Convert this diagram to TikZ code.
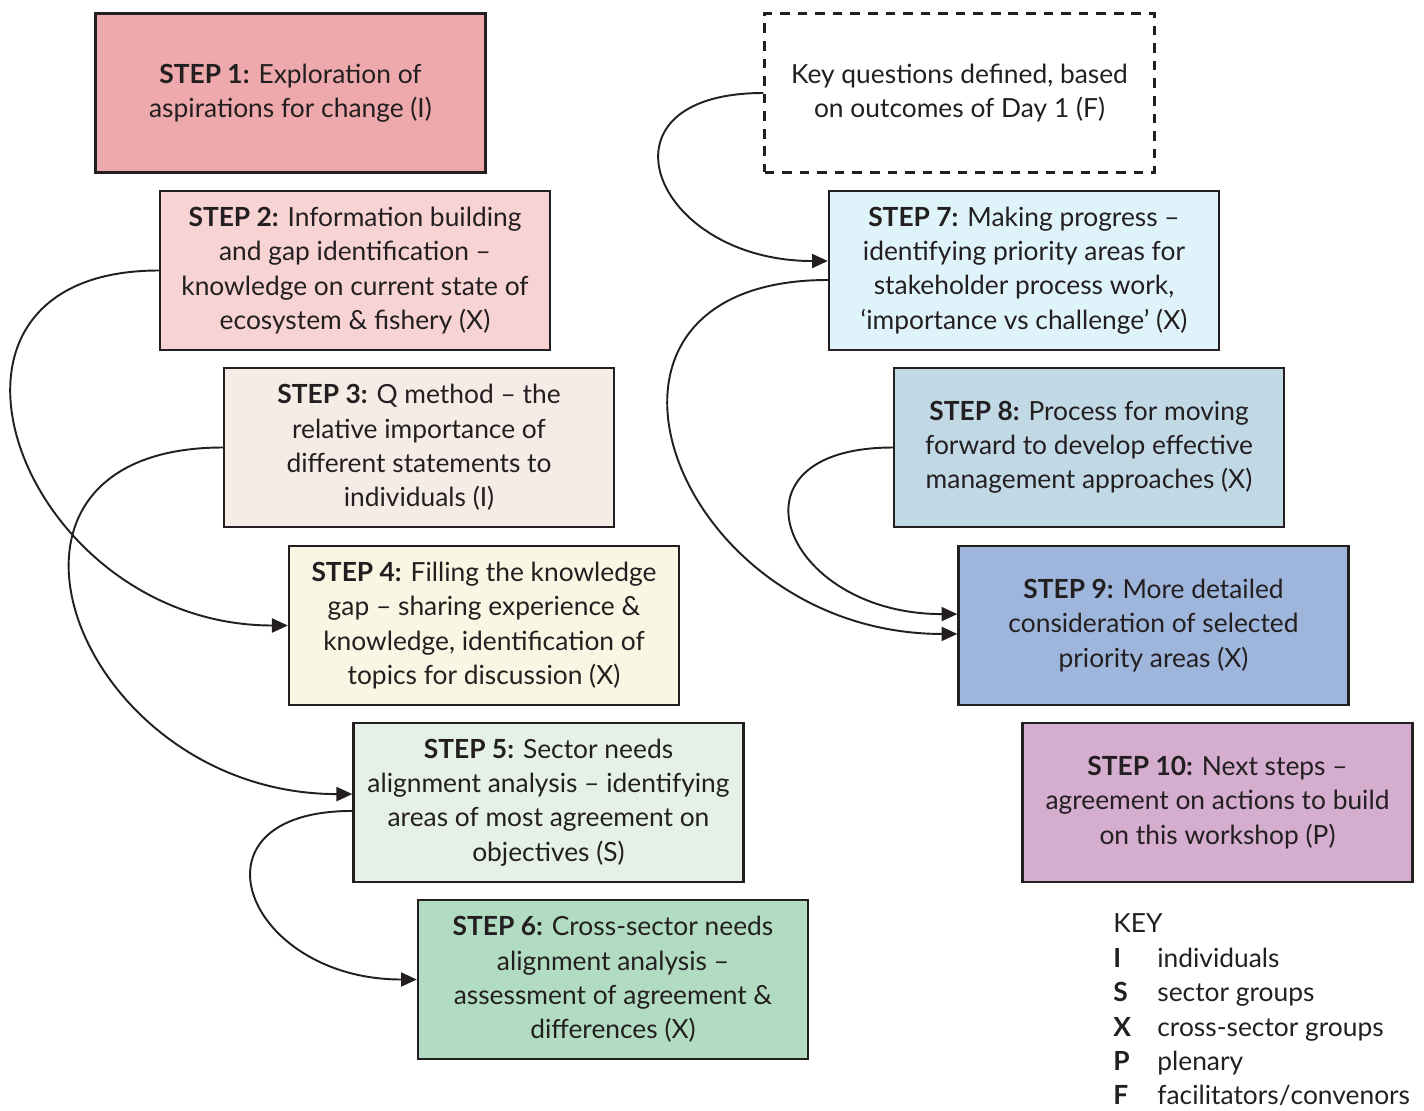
\documentclass[tikz,border=0pt]{standalone}
\usepackage{fontspec}
\setmainfont{Lato}
\usetikzlibrary{arrows.meta}
\definecolor{linec}{HTML}{231F20}
\definecolor{fillA}{HTML}{EDA9AC}
\definecolor{fillB}{HTML}{F7D3D4}
\definecolor{fillC}{HTML}{F6ECE6}
\definecolor{fillD}{HTML}{F8F7E3}
\definecolor{fillE}{HTML}{E5F1E7}
\definecolor{fillF}{HTML}{B2DCC2}
\definecolor{fillG}{HTML}{DFF3FB}
\definecolor{fillH}{HTML}{C1D8E5}
\definecolor{fillI}{HTML}{9EB6DC}
\definecolor{fillJ}{HTML}{D4ADCF}
\tikzset{
  stepbox/.style={draw=linec,line width=1.4pt,rectangle,minimum width=7.8cm,minimum height=3.18cm,
    inner sep=0pt,align=center,anchor=center,text=linec,font=\fontsize{15}{19.5}\selectfont},
  flow/.style={draw=linec,line width=1.1pt,-{Triangle[length=9pt,width=8pt]}},
  keytext/.style={anchor=base west,inner sep=0pt,text=linec,font=\fontsize{15}{19.5}\selectfont},
}
\begin{document}
\begin{tikzpicture}[x=0.02cm,y=-0.02cm]
        \useasboundingbox (0,0) rectangle (1424,1110);
        %% Left column
        \node[stepbox,fill=fillA] (s1) at (290.5,93) {\textbf{STEP 1:} Exploration of\\aspirations for change (I)};
        \node[stepbox,fill=fillB] (s2) at (355,270.5) {\textbf{STEP 2:} Information building\\and gap identification --\\knowledge on current state of\\ecosystem \& fishery (X)};
        \node[stepbox,fill=fillC] (s3) at (419,447.5) {\textbf{STEP 3:} Q method -- the\\relative importance of\\different statements to\\individuals (I)};
        \node[stepbox,fill=fillD] (s4) at (484,625.5) {\textbf{STEP 4:} Filling the knowledge\\gap -- sharing experience \&\\knowledge, identification of\\topics for discussion (X)};
        \node[stepbox,fill=fillE] (s5) at (548.5,802.5) {\textbf{STEP 5:} Sector needs\\alignment analysis -- identifying\\areas of most agreement on\\objectives (S)};
        \node[stepbox,fill=fillF] (s6) at (613,979.5) {\textbf{STEP 6:} Cross-sector needs\\alignment analysis --\\assessment of agreement \&\\differences (X)};
        %% Right column
        \node[stepbox,dash pattern=on 5.5pt off 4.5pt] (kq) at (959.5,93) {Key questions defined, based\\on outcomes of Day 1 (F)};
        \node[stepbox,fill=fillG] (s7) at (1024,270.5) {\textbf{STEP 7:} Making progress --\\identifying priority areas for\\stakeholder process work,\\`importance vs challenge' (X)};
        \node[stepbox,fill=fillH] (s8) at (1089,447.5) {\textbf{STEP 8:} Process for moving\\forward to develop effective\\management approaches (X)};
        \node[stepbox,fill=fillI] (s9) at (1153.5,625.5) {\textbf{STEP 9:} More detailed\\consideration of selected\\priority areas (X)};
        \node[stepbox,fill=fillJ] (s10) at (1217.5,802.5) {\textbf{STEP 10:} Next steps --\\agreement on actions to build\\on this workshop (P)};
        %% Connectors
        \draw[flow] (s2.west) .. controls +(-268,0) and +(-268,0) .. (s4.west);
        \draw[flow] (s3.west) .. controls +(-276,0) and +(-276,0) .. ([yshift=4.8pt]s5.west);
        \draw[flow] ([yshift=-4.8pt]s5.west) .. controls +(-172,0) and +(-172,0) .. (s6.west);
        \draw[flow] (kq.west) .. controls +(-176,0) and +(-176,0) .. ([yshift=5.4pt]s7.west);
        \draw[flow] ([yshift=-5.4pt]s7.west) .. controls +(-285,0) and +(-285,0) .. ([yshift=-4.8pt]s9.west);
        \draw[flow] (s8.west) .. controls +(-175,0) and +(-175,0) .. ([yshift=6.5pt]s9.west);
        %% Key
        \node[keytext] (key) at (1113,932) {KEY};
        \foreach \l/\d/\y in {I/individuals/967,S/sector groups/1001.5,X/cross-sector groups/1036,P/plenary/1070,F/facilitators\slash convenors/1104}{
            \node[keytext,font=\fontsize{15}{19.5}\selectfont\bfseries] (k\l) at (1113,\y) {\l};
            \node[keytext] (kd\l) at (1157,\y) {\d};
        }
    \end{tikzpicture}
\end{document}
